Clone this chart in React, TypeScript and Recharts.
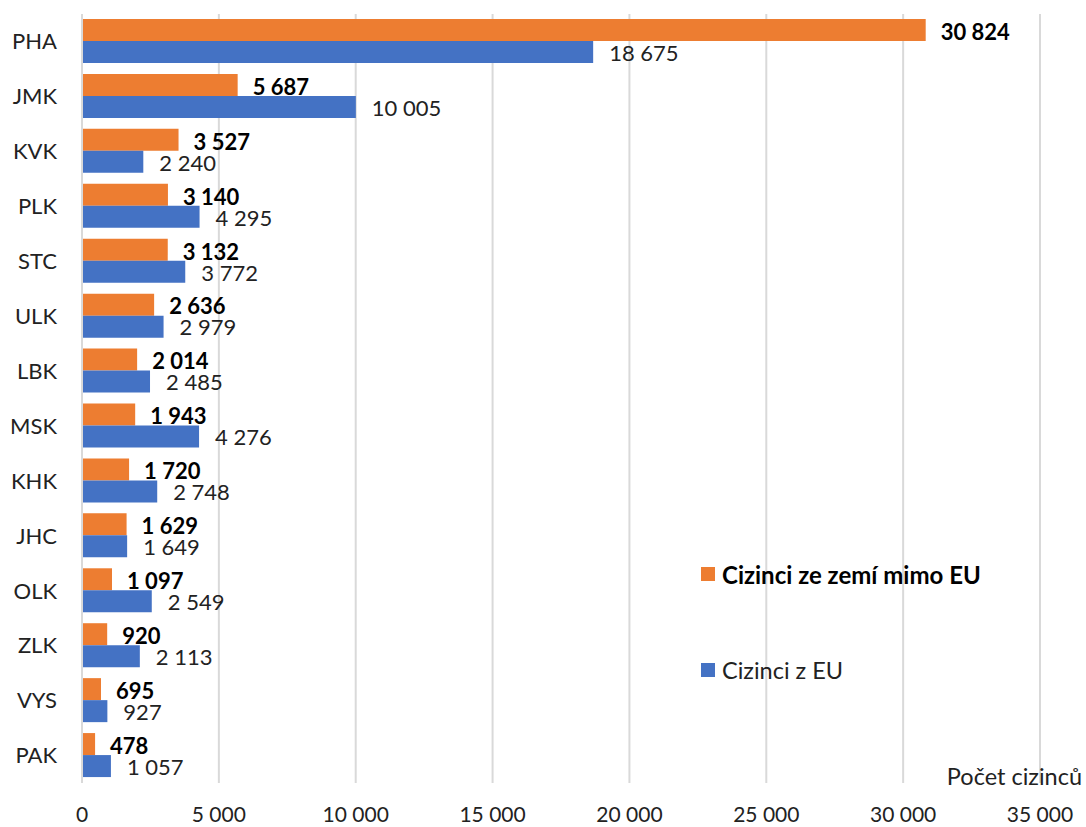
import React from 'react';
import { BarChart, Bar, XAxis, YAxis, CartesianGrid, LabelList } from 'recharts';

const REGIONS = ['PHA', 'JMK', 'KVK', 'PLK', 'STC', 'ULK', 'LBK', 'MSK', 'KHK', 'JHC', 'OLK', 'ZLK', 'VYS', 'PAK'];
const NON_EU = [30824, 5687, 3527, 3140, 3132, 2636, 2014, 1943, 1720, 1629, 1097, 920, 695, 478];
const EU = [18675, 10005, 2240, 4295, 3772, 2979, 2485, 4276, 2748, 1649, 2549, 2113, 927, 1057];
const X_TICKS = [0, 5000, 10000, 15000, 20000, 25000, 30000, 35000];

const ORANGE = '#ED7D31';
const BLUE = '#4472C4';
const FONT = 'Lato, "Noto Sans", sans-serif';

const data = REGIONS.map((name, i) => ({ name, nonEu: NON_EU[i], eu: EU[i] }));

// thousands with a space, like the Czech source
const fmt = (v: any) => String(v).replace(/\B(?=(\d{3})+(?!\d))/g, ' ');

const LegendBox = () => (
  <div style={{ position: 'absolute', left: 701, top: 561, fontFamily: FONT, fontSize: 23.5, color: '#222' }}>
    <div style={{ display: 'flex', alignItems: 'center', height: 26 }}>
      <span style={{ width: 14, height: 14, background: ORANGE, marginRight: 7 }} />
      <span style={{ fontWeight: 700, color: '#000', fontSize: 24 }}>Cizinci ze zemí mimo EU</span>
    </div>
    <div style={{ display: 'flex', alignItems: 'center', height: 26, marginTop: 70 }}>
      <span style={{ width: 14, height: 14, background: BLUE, marginRight: 7 }} />
      <span>Cizinci z EU</span>
    </div>
  </div>
);

const AxisTitle = (props: any) => {
  const vb = props.viewBox || {};
  return (
    <text x={vb.x + vb.width + 42} y={vb.y + 2} textAnchor="end" fontSize={23.5} fill="#222" fontFamily={FONT}>
      Počet cizinců
    </text>
  );
};

export default function App() {
  return (
    <div style={{ position: 'absolute', left: 0, top: 0, width: 1086, height: 827, background: '#fff', fontFamily: FONT }}>
      <BarChart
        width={1086}
        height={827}
        data={data}
        layout="vertical"
        margin={{ top: 14, right: 46, left: 0, bottom: 0 }}
        barGap={0}
      >
        <CartesianGrid horizontal={false} stroke="#d9d9d9" strokeWidth={2} />
        <XAxis
          type="number"
          domain={[0, 35000]}
          ticks={X_TICKS}
          tickFormatter={fmt}
          axisLine={false}
          tickLine={false}
          height={44}
          tickMargin={18}
          tick={{ fontSize: 21, fill: '#222', fontFamily: FONT }}
          label={<AxisTitle />}
        />
        <YAxis
          type="category"
          dataKey="name"
          width={82}
          axisLine={{ stroke: '#d9d9d9', strokeWidth: 2 }}
          tickLine={false}
          tickMargin={19}
          tick={{ fontSize: 22, fill: '#222', fontFamily: FONT }}
        />
        <Bar dataKey="nonEu" name="Cizinci ze zemí mimo EU" fill={ORANGE} barSize={22} isAnimationActive={false}>
          <LabelList
            dataKey="nonEu"
            position="right"
            offset={15}
            formatter={fmt}
            dy={2}
            style={{ fontSize: 22, fontWeight: 700, fill: '#000', fontFamily: FONT }}
          />
        </Bar>
        <Bar dataKey="eu" name="Cizinci z EU" fill={BLUE} barSize={22} isAnimationActive={false}>
          <LabelList
            dataKey="eu"
            position="right"
            offset={16}
            formatter={fmt}
            dy={1}
            style={{ fontSize: 22, fill: '#222', fontFamily: FONT }}
          />
        </Bar>
      </BarChart>
      <LegendBox />
    </div>
  );
}
